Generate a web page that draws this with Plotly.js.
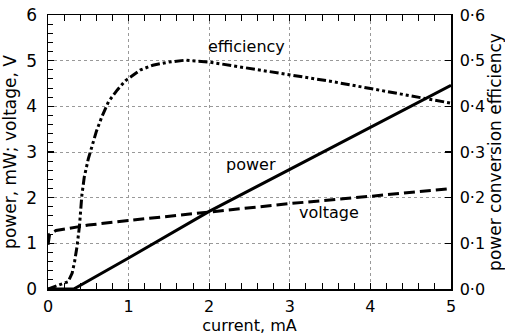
<!DOCTYPE html>
<html>
<head>
<meta charset="utf-8">
<script src="https://cdn.plot.ly/plotly-3.0.1.min.js"></script>
<style>
html,body{margin:0;padding:0;background:#fff;}
#chart{width:505px;height:335px;}
</style>
</head>
<body>
<div id="chart"></div>
<script>
// current, mA
const powerCurrent = [0, 0.32, 1, 2, 3, 4, 5];
const powerValues  = [0, 0, 0.68, 1.7, 2.62, 3.54, 4.46];

const voltageCurrent = [0, 0.02, 0.1, 0.5, 1, 2, 3, 4, 5];
const voltageValues  = [0.97, 1.2, 1.28, 1.4, 1.5, 1.68, 1.87, 2.03, 2.2];

const effCurrent = [0, 0.25, 0.3, 0.33, 0.36, 0.39, 0.42, 0.45, 0.5, 0.55, 0.6, 0.67, 0.75, 0.86, 0.96, 1.15, 1.3, 1.5, 1.7, 2, 2.5, 3, 3.5, 4, 4.5, 5];
const effValues  = [0, 0.016, 0.035, 0.06, 0.093, 0.137, 0.205, 0.245, 0.285, 0.315, 0.345, 0.378, 0.41, 0.436, 0.456, 0.48, 0.49, 0.497, 0.501, 0.497, 0.483, 0.47, 0.455, 0.439, 0.423, 0.407];

const xTicks = [0, 1, 2, 3, 4, 5];
const yTicks = [0, 1, 2, 3, 4, 5, 6];
const y2TickVals = [0, 0.1, 0.2, 0.3, 0.4, 0.5, 0.6];
const y2TickText = ['0·0', '0·1', '0·2', '0·3', '0·4', '0·5', '0·6'];

const curveLabels = [
  {text: 'efficiency', x: 2.46, y: 5.31},
  {text: 'power', x: 2.52, y: 2.72},
  {text: 'voltage', x: 3.49, y: 1.67}
];

const FONT = 'DejaVu Sans, sans-serif';

const traces = [
  {x: powerCurrent, y: powerValues, mode: 'lines', line: {color: '#000', width: 3}, hoverinfo: 'skip'},
  {x: voltageCurrent, y: voltageValues, mode: 'lines', line: {color: '#000', width: 3, dash: '11px,5px'}, hoverinfo: 'skip'},
  {x: effCurrent, y: effValues, yaxis: 'y2', mode: 'lines', line: {color: '#000', width: 3, dash: '9px,3px,3px,3px,3px,3px'}, hoverinfo: 'skip'}
];

const layout = {
  width: 505, height: 335,
  margin: {l: 48, r: 54, t: 15, b: 46},
  paper_bgcolor: '#fff', plot_bgcolor: '#fff',
  showlegend: false,
  font: {family: FONT, size: 16, color: '#000'},
  xaxis: {
    range: [0, 5], tickvals: xTicks, ticks: 'inside', ticklen: 6, tickwidth: 1.2, tickcolor: '#000',
    minor: {dtick: 0.2, ticks: 'inside', ticklen: 5, tickwidth: 1, tickcolor: '#000'},
    showline: true, linecolor: '#000', linewidth: 1.5, mirror: 'allticks',
    showgrid: true, gridcolor: '#999', griddash: 'dot', gridwidth: 1,
    zeroline: false, ticklabelstandoff: 2,
    tickfont: {family: FONT, size: 16},
    title: {text: 'current, mA', font: {family: FONT, size: 16}, standoff: 1}
  },
  yaxis: {
    range: [0, 6], tickvals: yTicks, ticks: 'inside', ticklen: 6, tickwidth: 1.2, tickcolor: '#000',
    minor: {dtick: 0.2, ticks: 'inside', ticklen: 5, tickwidth: 1, tickcolor: '#000'},
    showline: true, linecolor: '#000', linewidth: 1.5,
    showgrid: true, gridcolor: '#999', griddash: 'dot', gridwidth: 1,
    zeroline: false, ticklabelstandoff: 6,
    tickfont: {family: FONT, size: 17},
    title: {text: 'power, mW; voltage, V', font: {family: FONT, size: 17}, standoff: 6}
  },
  yaxis2: {
    overlaying: 'y', side: 'right', range: [0, 0.6],
    tickvals: y2TickVals, ticktext: y2TickText,
    ticks: 'inside', ticklen: 6, tickwidth: 1.2, tickcolor: '#000',
    showline: true, linecolor: '#000', linewidth: 1.5,
    showgrid: false, zeroline: false, ticklabelstandoff: 4,
    tickfont: {family: FONT, size: 16},
    title: {text: 'power conversion efficiency', font: {family: FONT, size: 17}, standoff: 4}
  },
  annotations: curveLabels.map(l => ({
    text: l.text, x: l.x, y: l.y, xref: 'x', yref: 'y',
    showarrow: false, font: {family: FONT, size: 16, color: '#000'},
    bgcolor: 'rgba(0,0,0,0)'
  }))
};

Plotly.newPlot('chart', traces, layout, {staticPlot: true, displayModeBar: false});
</script>
</body>
</html>
